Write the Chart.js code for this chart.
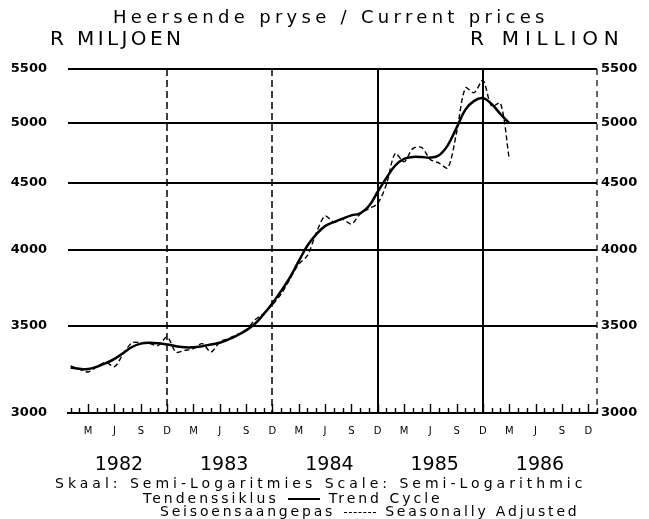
<!DOCTYPE html>
<html>
<head>
<meta charset="utf-8">
<script src="https://cdn.jsdelivr.net/npm/chart.js@4/dist/chart.umd.min.js"></script>
<style>
  body { margin: 0; background: #fff; }
  #wrap { position: relative; width: 649px; height: 519px; font-family: "DejaVu Sans", sans-serif; color: #000; }
  #chart { position: absolute; left: 0; top: 0; }
  .txt { position: absolute; white-space: nowrap; line-height: 1; }
  .sample { display: inline-block; width: 32px; margin: 0 9px; vertical-align: middle; }
</style>
</head>
<body>
<div id="wrap">
  <canvas id="chart" width="649" height="519"></canvas>
  <div class="txt" style="left:113px;top:8px;font-size:18px;letter-spacing:4.3px;">Heersende pryse / Current prices</div>
  <div class="txt" style="left:50px;top:28px;font-size:20px;letter-spacing:3.4px;">R MILJOEN</div>
  <div class="txt" style="left:470px;top:28px;font-size:20px;letter-spacing:5.8px;">R MILLION</div>
  <div class="txt" style="left:55px;top:476px;font-size:14px;letter-spacing:4px;">Skaal: Semi-Logaritmies&nbsp;Scale: Semi-Logarithmic</div>
  <div class="txt" style="left:143px;top:491px;font-size:14px;letter-spacing:3px;">Tendenssiklus<span class="sample" style="border-bottom:2px solid #000;"></span>Trend Cycle</div>
  <div class="txt" style="left:160px;top:504px;font-size:14px;letter-spacing:2.8px;">Seisoensaangepas<span class="sample" style="border-bottom:1.5px dashed #000;"></span>Seasonally Adjusted</div>
</div>
<script>
// monthly values, Jan 1982 .. Mar 1986 (R million)
const trendCycle = [
  3250, 3243, 3242, 3255, 3275, 3300, 3335, 3370, 3390, 3395, 3392, 3385,
  3375, 3368, 3368, 3375, 3385, 3395, 3415, 3440, 3470, 3510, 3570, 3640,
  3720, 3810, 3920, 4030, 4110, 4170, 4200, 4225, 4250, 4265, 4320, 4430,
  4540, 4640, 4695, 4710, 4710, 4705, 4725, 4810, 4960, 5120, 5200, 5225,
  5170, 5080, 5000
];
const seasAdjusted = [
  3260, 3240, 3225, 3255, 3280, 3255, 3330, 3395, 3395, 3390, 3380, 3430,
  3340, 3350, 3360, 3390, 3340, 3400, 3420, 3445, 3470, 3535, 3575, 3630,
  3700, 3800, 3900, 3960, 4120, 4245, 4200, 4220, 4185, 4260, 4300, 4340,
  4490, 4740, 4670, 4780, 4790, 4690, 4660, 4620, 4920, 5320, 5275, 5390,
  5150, 5180, 4690
];
const yTicks = [3000, 3500, 4000, 4500, 5000, 5500];
const quarterLabels = ["M", "J", "S", "D"];
const years = ["1982", "1983", "1984", "1985", "1986"];
const decemberLines = [11, 23, 35, 47];

const toPoints = arr => arr.map((v, i) => ({ x: i, y: v }));

const fitWidth = w => scale => { scale.width = w; };
const fitHeight = h => scale => { scale.height = h; };

const gridPlugin = {
  id: "plotterGrid",
  beforeDatasetsDraw(chart) {
    const { ctx, chartArea } = chart;
    const x = chart.scales.x;
    ctx.save();
    ctx.strokeStyle = "#000";
    decemberLines.forEach((m, i) => {
      const px = Math.round(x.getPixelForValue(m));
      ctx.lineWidth = i < 2 ? 1.5 : 2;
      ctx.setLineDash(i < 2 ? [7, 4] : []);
      ctx.beginPath();
      ctx.moveTo(px, chartArea.top);
      ctx.lineTo(px, chartArea.bottom);
      ctx.stroke();
    });
    // right edge
    const rx = Math.round(x.getPixelForValue(60));
    ctx.lineWidth = 1.2;
    ctx.setLineDash([6, 5]);
    ctx.beginPath();
    ctx.moveTo(rx, chartArea.top);
    ctx.lineTo(rx, chartArea.bottom);
    ctx.stroke();
    // month ticks standing on the base line
    ctx.setLineDash([]);
    ctx.lineWidth = 1.4;
    for (let m = 0; m <= 60; m++) {
      const px = Math.round(x.getPixelForValue(m)) + 0.5;
      const len = m % 3 === 2 ? 9 : 5;
      ctx.beginPath();
      ctx.moveTo(px, chartArea.bottom);
      ctx.lineTo(px, chartArea.bottom - len);
      ctx.stroke();
    }
    ctx.restore();
  }
};

const yAxis = (position, width, padding) => ({
  type: "logarithmic",
  position,
  min: 3000,
  max: 5500,
  afterBuildTicks: s => { s.ticks = yTicks.map(v => ({ value: v })); },
  afterFit: fitWidth(width),
  border: { display: false },
  grid: {
    display: position === "left",
    drawTicks: false,
    color: c => (c.tick && c.tick.value === 3000 ? "rgba(0,0,0,0)" : "#000"),
    lineWidth: 2
  },
  ticks: {
    padding,
    color: "#000",
    font: { family: "DejaVu Sans", size: 13, weight: "bold" },
    callback: v => String(v)
  }
});

new Chart(document.getElementById("chart"), {
  type: "line",
  data: {
    datasets: [
      {
        label: "Trend Cycle",
        data: toPoints(trendCycle),
        borderColor: "#000",
        borderWidth: 2.5,
        pointRadius: 0,
        tension: 0.4,
        fill: false
      },
      {
        label: "Seasonally Adjusted",
        data: toPoints(seasAdjusted),
        borderColor: "#000",
        borderWidth: 1.4,
        borderDash: [5, 3],
        pointRadius: 0,
        tension: 0.3,
        fill: false
      }
    ]
  },
  options: {
    responsive: false,
    animation: false,
    layout: { padding: { top: 69, bottom: 44, left: 0, right: 0 } },
    plugins: { legend: { display: false }, tooltip: { enabled: false } },
    scales: {
      x: {
        type: "linear",
        position: "bottom",
        weight: 0,
        min: -0.3,
        max: 60,
        afterBuildTicks: s => {
          const t = [];
          for (let k = 0; k < 20; k++) t.push({ value: 2 + 3 * k });
          s.ticks = t;
        },
        afterFit: fitHeight(32),
        border: { display: true, color: "#000", width: 2 },
        grid: { display: false, drawTicks: false },
        ticks: {
          autoSkip: false,
          maxRotation: 0,
          padding: 12,
          color: "#000",
          font: { family: "DejaVu Sans", size: 10 },
          callback: v => quarterLabels[((v - 2) / 3) % 4]
        }
      },
      years: {
        type: "linear",
        position: "bottom",
        weight: 1,
        min: -0.3,
        max: 60,
        afterBuildTicks: s => { s.ticks = years.map((y, i) => ({ value: 5.5 + 12 * i })); },
        afterFit: fitHeight(30),
        border: { display: false },
        grid: { display: false, drawTicks: false },
        ticks: {
          autoSkip: false,
          maxRotation: 0,
          padding: 9,
          color: "#000",
          font: { family: "DejaVu Sans", size: 19 },
          callback: v => years[Math.round((v - 5.5) / 12)]
        }
      },
      y: yAxis("left", 68, 21),
      y2: yAxis("right", 52, 4)
    }
  },
  plugins: [gridPlugin]
});
</script>
</body>
</html>
